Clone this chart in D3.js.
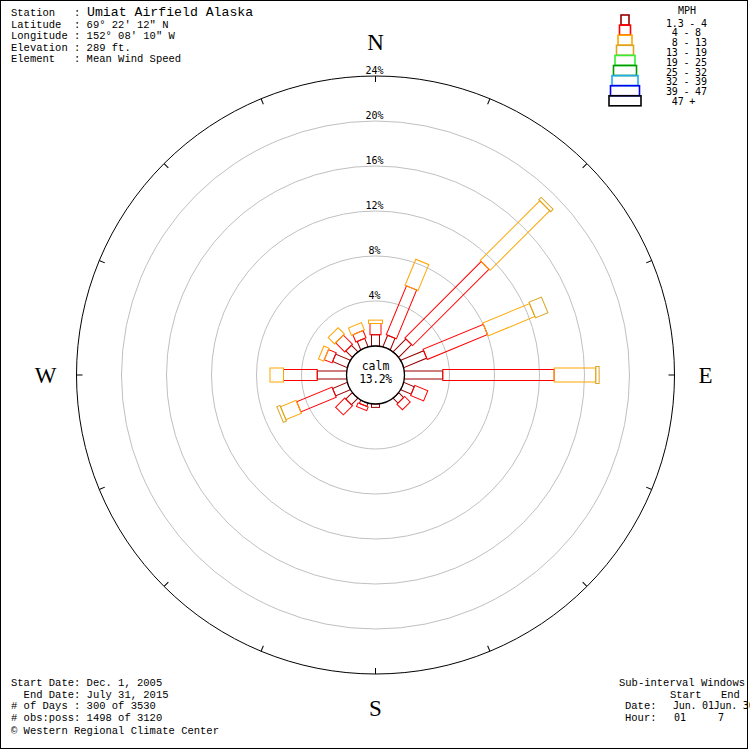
<!DOCTYPE html>
<html>
<head>
<meta charset="utf-8">
<script src="https://cdn.jsdelivr.net/npm/d3@7"></script>
<style>
  body { margin: 0; background: #fff; }
  text { white-space: pre; }
</style>
</head>
<body>
<svg width="750" height="750"></svg>
<script>
// wind directions, clockwise from north
var directions = ["N", "NNE", "NE", "ENE", "E", "ESE", "SE", "SSE",
                  "S", "SSW", "SW", "WSW", "W", "WNW", "NW", "NNW"];

// percent of obs per speed class (same order as directions)
var pct1to4   = [1.0, 1.1, 1.6, 2.2, 3.4, 1.0, 0.6, 0.0, 0.3, 0.3, 0.8, 1.4, 2.6, 1.4, 0.8, 0.8];
var pct4to8   = [1.0, 4.7, 9.6, 5.8, 9.9, 1.25, 0.7, 0.0, 0.0, 0.35, 1.15, 3.4, 3.0, 0.75, 1.15, 0.7];
var pct8to13  = [0.3, 2.5, 7.5, 4.5, 3.7, 0.0, 0.0, 0.0, 0.0, 0.0, 0.0, 1.5, 1.2, 0.5, 0.8, 0.7];
var pct13to19 = [0.0, 0.0, 0.3, 1.2, 0.3, 0.0, 0.0, 0.0, 0.0, 0.0, 0.0, 0.3, 0.0, 0.0, 0.0, 0.0];

var speedLabels = ["1.3 - 4", " 4 - 8", " 8 - 13", "13 - 19", "19 - 25",
                   "25 - 32", "32 - 39", "39 - 47", " 47 +"];
var speedColors = ["#990000", "#ff0000", "#ffa500", "#daa520", "#33ee33",
                   "#009900", "#22aaee", "#0000ee", "#000000"];

var calmPct = 13.2;
var ringTicks = [4, 8, 12, 16, 20, 24];
var compass = [{label: "N", angle: 0}, {label: "E", angle: 90},
               {label: "S", angle: 180}, {label: "W", angle: 270}];

var headerLines = ["Station   :", "Latitude  : 69\u00b0 22' 12\" N", "Longitude : 152\u00b0 08' 10\" W",
                   "Elevation : 289 ft.", "Element   : Mean Wind Speed"];
var stationName = "Umiat Airfield Alaska";
var footerLines = ["Start Date: Dec. 1, 2005", "  End Date: July 31, 2015", "# of Days : 300 of 3530",
                   "# obs:poss: 1498 of 3120", "\u00a9 Western Regional Climate Center"];

var svg = d3.select("svg"),
    cx = 375.5, cy = 375;

var monoFont = "'Liberation Mono', 'DejaVu Sans Mono', monospace",
    pixFont = "'DejaVu Sans Mono', monospace";

// radius: calm circle edge = 0%
var r = d3.scaleLinear().domain([0, 24]).range([29, 299]);
// bar width by speed class
var w = d3.scaleLinear().domain([0, 8]).range([8, 32]);
var angle = d3.scaleLinear().domain([0, directions.length]).range([0, 360]);

// frame
svg.append("rect")
    .attr("x", 0.5).attr("y", 0.5)
    .attr("width", 747).attr("height", 748)
    .attr("fill", "none").attr("stroke", "#000");

var rose = svg.append("g")
    .attr("transform", "translate(" + cx + "," + cy + ")");

// grid rings
rose.selectAll("circle.grid")
    .data(ringTicks.slice(0, -1))
    .enter().append("circle")
    .attr("class", "grid")
    .attr("r", function(d) { return r(d); })
    .attr("fill", "none")
    .attr("stroke", "#c0c0c0");

rose.append("circle")
    .attr("r", r(24))
    .attr("fill", "none")
    .attr("stroke", "#000");

// ticks on the outer ring
rose.selectAll("line.tick")
    .data(directions)
    .enter().append("line")
    .attr("class", "tick")
    .attr("transform", function(d, i) { return "rotate(" + angle(i) + ")"; })
    .attr("y1", -r(24)).attr("y2", -r(24) + 6)
    .attr("stroke", "#000");

// ring labels
rose.selectAll("text.ring")
    .data(ringTicks)
    .enter().append("text")
    .attr("class", "ring")
    .attr("x", -1)
    .attr("y", function(d) { return -r(d) - 2; })
    .attr("text-anchor", "middle")
    .attr("font-family", pixFont)
    .attr("font-size", 10)
    .text(function(d) { return d + "%"; });

// petals: stacked rects per class
var classes = [pct1to4, pct4to8, pct8to13, pct13to19];
var segs = [];
directions.forEach(function(dir, i) {
    var start = 0;
    classes.forEach(function(arr, k) {
        if (arr[i] > 0) {
            segs.push({dir: i, k: k, p0: start, p1: start + arr[i]});
            start += arr[i];
        }
    });
});

rose.selectAll("rect.seg")
    .data(segs)
    .enter().append("rect")
    .attr("class", "seg")
    .attr("transform", function(d) { return "rotate(" + angle(d.dir) + ")"; })
    .attr("x", function(d) { return -w(d.k) / 2; })
    .attr("y", function(d) { return -r(d.p1); })
    .attr("width", function(d) { return w(d.k); })
    .attr("height", function(d) { return r(d.p1) - r(d.p0); })
    .attr("fill", "none")
    .attr("stroke", function(d) { return speedColors[d.k]; });

// calm circle
rose.append("circle")
    .attr("r", r(0))
    .attr("fill", "#fff")
    .attr("stroke", "#000")
    .attr("stroke-width", 1.3);

rose.append("text")
    .attr("y", -5).attr("text-anchor", "middle")
    .attr("font-family", pixFont).attr("font-size", 11.5)
    .text("calm");
rose.append("text")
    .attr("y", 8).attr("text-anchor", "middle")
    .attr("font-family", pixFont).attr("font-size", 11.5)
    .attr("letter-spacing", -0.4)
    .text(calmPct.toFixed(1) + "%");

// compass letters
rose.selectAll("text.compass")
    .data(compass)
    .enter().append("text")
    .attr("class", "compass")
    .attr("x", function(d) { return Math.sin(d.angle * Math.PI / 180) * 330; })
    .attr("y", function(d) { return -Math.cos(d.angle * Math.PI / 180) * 333; })
    .attr("text-anchor", "middle")
    .attr("dominant-baseline", "central")
    .attr("font-family", "'Liberation Serif', 'DejaVu Serif', serif")
    .attr("font-size", 23)
    .text(function(d) { return d.label; });

// header
svg.selectAll("text.header")
    .data(headerLines)
    .enter().append("text")
    .attr("class", "header")
    .attr("x", 11)
    .attr("y", function(d, i) { return 16 + i * 11.5; })
    .attr("font-family", monoFont)
    .attr("font-size", 10.5)
    .text(function(d) { return d; });

svg.append("text")
    .attr("x", 87).attr("y", 16)
    .attr("font-family", monoFont)
    .attr("font-size", 13.2)
    .text(stationName);

// legend
var legend = svg.append("g");
legend.selectAll("rect")
    .data(speedLabels)
    .enter().append("rect")
    .attr("x", function(d, i) { return 625 - w(i) / 2; })
    .attr("y", function(d, i) { return 15 + i * 10.1; })
    .attr("width", function(d, i) { return w(i); })
    .attr("height", 10)
    .attr("fill", "none")
    .attr("stroke-width", 1.6)
    .attr("stroke", function(d, i) { return speedColors[i]; });

legend.append("text")
    .attr("x", 687).attr("y", 14)
    .attr("text-anchor", "middle")
    .attr("font-family", pixFont).attr("font-size", 10)
    .text("MPH");

legend.selectAll("text.lab")
    .data(speedLabels)
    .enter().append("text")
    .attr("class", "lab")
    .attr("x", 666)
    .attr("y", function(d, i) { return 26.5 + i * 9.8; })
    .attr("font-family", pixFont).attr("font-size", 10)
    .attr("letter-spacing", -0.2)
    .text(function(d) { return d; });

// footer
svg.selectAll("text.footer")
    .data(footerLines)
    .enter().append("text")
    .attr("class", "footer")
    .attr("x", 11)
    .attr("y", function(d, i) { return i < 4 ? 686 + i * 11.7 : 734; })
    .attr("font-family", monoFont)
    .attr("font-size", 10.5)
    .text(function(d) { return d; });

// sub-interval block
var sub = svg.append("g")
    .attr("font-family", monoFont)
    .attr("font-size", 10.5);
sub.append("text").attr("x", 619).attr("y", 686).text("Sub-interval Windows");
sub.append("text").attr("x", 670).attr("y", 697.5).text("Start");
sub.append("text").attr("x", 721).attr("y", 697.5).text("End");
sub.append("text").attr("x", 625).attr("y", 709).text("Date:");
sub.append("text").attr("x", 625).attr("y", 720.5).text("Hour:");
sub.append("text").attr("x", 673).attr("y", 709)
    .attr("font-family", pixFont).attr("font-size", 10)
    .attr("letter-spacing", -0.2)
    .text("Jun. 01Jun. 30");
sub.append("text").attr("x", 674).attr("y", 720.5)
    .attr("font-family", pixFont).attr("font-size", 10)
    .text("01");
sub.append("text").attr("x", 718).attr("y", 720.5)
    .attr("font-family", pixFont).attr("font-size", 10)
    .text("7");
</script>
</body>
</html>
